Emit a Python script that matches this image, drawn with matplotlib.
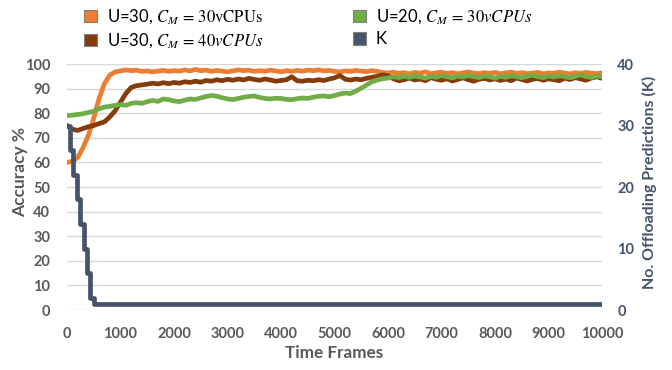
import matplotlib
matplotlib.use("Agg")
import matplotlib.pyplot as plt
from matplotlib.patches import Patch
import numpy as np

plt.rcParams['font.family'] = ['Lato', 'DejaVu Sans']
plt.rcParams['mathtext.fontset'] = 'stix'

frames = list(range(0, 10001, 100))

acc_u30_c30 = [60, 60.5, 62, 66, 71, 78, 86, 92, 95.5, 96.8,
               97.2, 97.6, 97.3, 97.5, 97.0, 97.2, 96.8, 97.1, 97.4, 97.0,
               97.3, 97.1, 97.6, 97.2, 97.8, 97.3, 97.5, 97.0, 97.4, 97.1,
               96.8, 97.2, 97.6, 97.3, 97.5, 97.0, 97.3, 97.1, 97.5, 97.2,
               96.8, 97.3, 97.0, 97.4, 97.1, 97.5, 97.3, 97.6, 97.2, 97.4,
               97.0, 96.8, 97.2, 97.0, 97.4, 97.1, 96.9, 97.3, 97.0, 96.5,
               96.4, 96.7, 96.2, 96.5, 96.0, 96.6, 96.3, 96.8, 96.1, 96.4,
               96.7, 96.2, 96.5, 96.0, 96.4, 96.8, 96.3, 96.1, 96.5, 96.2,
               96.6, 96.0, 96.4, 96.7, 96.2, 96.5, 96.1, 96.3, 96.6, 96.0,
               96.4, 96.2, 96.7, 96.3, 96.0, 96.5, 96.2, 96.6, 96.3, 96.1,
               96.4]

acc_u30_c40 = [75, 73.5, 73, 73.8, 74.5, 75, 75.8, 76.5, 78.5, 81,
               84.5, 88, 90.5, 91.2, 91.5, 91.8, 92.2, 91.9, 92.4, 92.0,
               92.5, 92.2, 92.8, 92.5, 93.0, 92.6, 93.3, 93.0, 93.6, 93.2,
               93.8, 93.4, 93.9, 93.5, 94.2, 93.7, 93.4, 93.9, 93.5, 93.0,
               93.3, 93.6, 94.8, 93.2, 93.0, 93.4, 93.2, 93.6, 93.3, 93.9,
               94.4, 95.3, 93.8, 93.5, 93.9, 93.6, 94.2, 94.6, 95.0, 95.6,
               95.2, 94.0, 93.2, 93.6, 94.3, 93.5, 93.9, 93.2, 94.5, 93.8,
               93.4, 94.0, 93.1, 93.7, 94.4, 93.6, 93.0, 93.8, 94.2, 93.5,
               94.0, 93.3, 93.9, 93.2, 94.3, 93.7, 93.1, 93.8, 94.1, 93.4,
               94.0, 93.6, 93.2, 94.2, 93.7, 94.5, 93.9, 93.4, 94.3, 94.8,
               94.2]

acc_u20_c30 = [79, 79.2, 79.5, 79.8, 80.3, 80.8, 81.8, 82.5, 82.8, 83.2,
               83.5, 83.2, 84.0, 84.3, 84.0, 84.7, 85.2, 84.8, 85.8, 85.5,
               85.0, 84.7, 85.3, 85.8, 85.6, 86.2, 86.8, 87.2, 86.9, 86.3,
               85.8, 85.5, 86.0, 86.5, 86.8, 87.0, 86.4, 86.0, 85.8, 86.1,
               86.0, 85.6, 85.5, 85.9, 86.2, 86.0, 86.5, 86.9, 87.0, 86.7,
               87.2, 87.8, 88.2, 88.0, 89.0, 90.2, 91.5, 92.8, 93.5, 94.0,
               94.3, 94.8, 94.5, 95.0, 94.6, 95.2, 94.7, 94.3, 95.0, 94.6,
               95.3, 94.8, 94.4, 95.1, 94.7, 95.4, 94.9, 94.5, 95.2, 94.8,
               94.3, 95.0, 94.6, 95.3, 94.9, 94.4, 95.1, 95.5, 94.8, 94.5,
               95.2, 94.7, 95.4, 94.9, 94.4, 95.0, 95.6, 94.9, 94.5, 95.2,
               94.8]

k_frames = [0, 60, 120, 180, 250, 310, 370, 430, 500, 10000]
k_values = [30, 26, 22, 18, 14, 10, 6, 2, 1, 1]

labels = [r"U=30, $C_M\,=\,30\mathrm{vCPUs}$",
          r"U=30, $C_M\,=\,40vCPUs$",
          r"U=20, $C_M\,=\,30vCPUs$",
          "K"]
colors = ["#ED7D31", "#843C0C", "#70AD47", "#44546A"]

fig = plt.figure(figsize=(6.72, 3.70), dpi=100)
ax = fig.add_axes([0.0997, 0.162, 0.7963, 0.665])
lw = 3.4
ax.plot(frames, acc_u30_c30, color=colors[0], lw=lw, solid_joinstyle='round')
ax.plot(frames, acc_u30_c40, color=colors[1], lw=lw, solid_joinstyle='round')
ax.plot(frames, acc_u20_c30, color=colors[2], lw=lw, solid_joinstyle='round')
ax.set_xlim(0, 10000)
ax.set_ylim(0, 100)
ax.set_xticks(range(0, 10001, 1000))
ax.set_yticks(range(0, 101, 10))
ax.grid(axis='y', color='#D9D9D9', lw=1)
ax.set_axisbelow(True)
for s in ax.spines.values():
    s.set_visible(False)
ax.tick_params(length=0, labelsize=10.5, colors='#595959')
ax.tick_params(axis='y', pad=12)
ax.tick_params(axis='x', pad=12)
for t in ax.get_xticklabels() + ax.get_yticklabels():
    t.set_fontweight('bold')
ax.set_ylabel("Accuracy %", fontsize=12.5, fontweight='bold', color='#595959')
ax.yaxis.set_label_coords(-0.073, 0.56)
ax.set_xlabel("Time Frames", fontsize=12.3, fontweight='bold', color='#595959', labelpad=3)

ax2 = ax.twinx()
ax2.step(k_frames, k_values, where='post', color=colors[3], lw=lw)
ax2.set_ylim(0, 40)
ax2.set_yticks([0, 10, 20, 30, 40])
for s in ax2.spines.values():
    s.set_visible(False)
ax2.tick_params(length=0, labelsize=10.5, colors='#44546A', pad=11)
for t in ax2.get_yticklabels():
    t.set_fontweight('bold')
ax2.set_ylabel("No. Offloading Predictions (K)", fontsize=11.5, fontweight='bold',
               color='#44546A', labelpad=6)
ax2.yaxis.set_label_coords(1.075, 0.52)

handles = [Patch(facecolor=c, edgecolor='#7F7F7F', lw=0.8) for c in colors]
fig.legend(handles, labels, loc='upper left', bbox_to_anchor=(0.103, 1.02), ncol=2,
           frameon=False, fontsize=12, handlelength=0.75, handleheight=0.75,
           handletextpad=0.6, columnspacing=5.4, labelspacing=0.3)

fig.savefig("out.png", dpi=100)
